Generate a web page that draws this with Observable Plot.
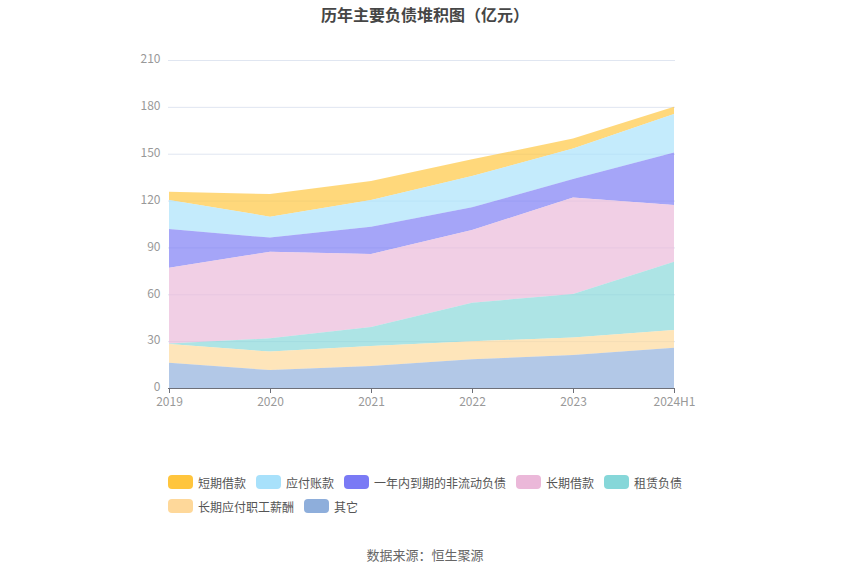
<!DOCTYPE html>
<html><head><meta charset="utf-8">
<script src="https://cdn.jsdelivr.net/npm/d3@7"></script>
<script src="https://cdn.jsdelivr.net/npm/@observablehq/plot@0.6"></script>
<style>
body{margin:0;background:#fff;font-family:"Noto Sans CJK SC","Noto Sans",sans-serif;width:850px;}
#title{height:30px;line-height:28px;text-align:center;font-size:16px;font-weight:bold;color:#464646;}
#legend{position:absolute;left:168px;top:470px;font-size:12px;color:#555;}
.row{display:flex;height:24px;align-items:center;}
.item{display:flex;align-items:center;margin-right:10px;}
.sw{width:25px;height:14px;border-radius:4px;margin-right:5px;}
#cap{position:absolute;left:0;width:850px;top:545px;text-align:center;font-size:13px;color:#666;}
</style></head><body>
<div id="title">历年主要负债堆积图（亿元）</div>
<div id="chart"></div>
<div id="legend"></div>
<div id="cap">数据来源：恒生聚源</div>
<script>
const years = ["2019","2020","2021","2022","2023","2024H1"];
const seriesNames = ["短期借款","应付账款","一年内到期的非流动负债","长期借款","租赁负债","长期应付职工薪酬","其它"];
const colors = ["#ffc53d","#a8e1fb","#7a7af5","#ebb8d9","#86d7d9","#fed89a","#8eaedb"];
const v短期借款 = [5.3,14.5,12.1,10.7,6.4,4.7];
const v应付账款 = [18.6,13.4,17.1,20.0,19.6,24.7];
const v一年内到期 = [24.8,9.0,17.5,14.5,11.9,33.5];
const v长期借款 = [48.5,55.5,46.7,46.6,61.7,36.3];
const v租赁负债 = [0.3,8.5,12.2,24.7,27.8,43.8];
const v长期应付职工薪酬 = [12.0,11.8,12.8,11.5,11.3,11.3];
const v其它 = [16.2,11.5,14.1,18.4,21.1,25.8];
const yTicks = [0,30,60,90,120,150,180,210];

const valuesBySeries = [v短期借款,v应付账款,v一年内到期,v长期借款,v租赁负债,v长期应付职工薪酬,v其它];
const data = [];
seriesNames.forEach((s,i)=>years.forEach((y,j)=>data.push({year:y,series:s,value:valuesBySeries[i][j]})));
const stackOrder = seriesNames.slice().reverse();

const chart = Plot.plot({
  width:850, height:420,
  marginTop:30, marginBottom:62, marginLeft:168, marginRight:175,
  style:{fontFamily:"'Noto Sans CJK SC','Noto Sans',sans-serif",fontSize:"12px"},
  x:{type:"point",domain:years,padding:0,label:null},
  y:{domain:[0,210],label:null},
  color:{domain:seriesNames,range:colors},
  marks:[
    Plot.ruleY(yTicks,{stroke:"#e0e6f1",strokeWidth:1}),
    Plot.areaY(data,Plot.stackY({x:"year",y:"value",z:"series",fill:"series",order:stackOrder,fillOpacity:0.68})),
    Plot.axisY({ticks:yTicks,tickSize:0,tickPadding:8,fill:"#999",fontSize:12,dy:-1}),
    Plot.ruleY([0],{stroke:"#6e7079",strokeWidth:1}),
    Plot.axisX({tickSize:5,stroke:"#6e7079",tickPadding:4,fill:"#999",fontSize:12})
  ]
});
document.getElementById("chart").appendChild(chart);

const leg = document.getElementById("legend");
const rows = [[0,1,2,3,4],[5,6]];
rows.forEach(r=>{
  const row = document.createElement("div"); row.className="row";
  r.forEach(i=>{
    const it=document.createElement("div"); it.className="item";
    it.innerHTML=`<div class="sw" style="background:${colors[i]}"></div><span>${seriesNames[i]}</span>`;
    row.appendChild(it);
  });
  leg.appendChild(row);
});
</script>
</body></html>
